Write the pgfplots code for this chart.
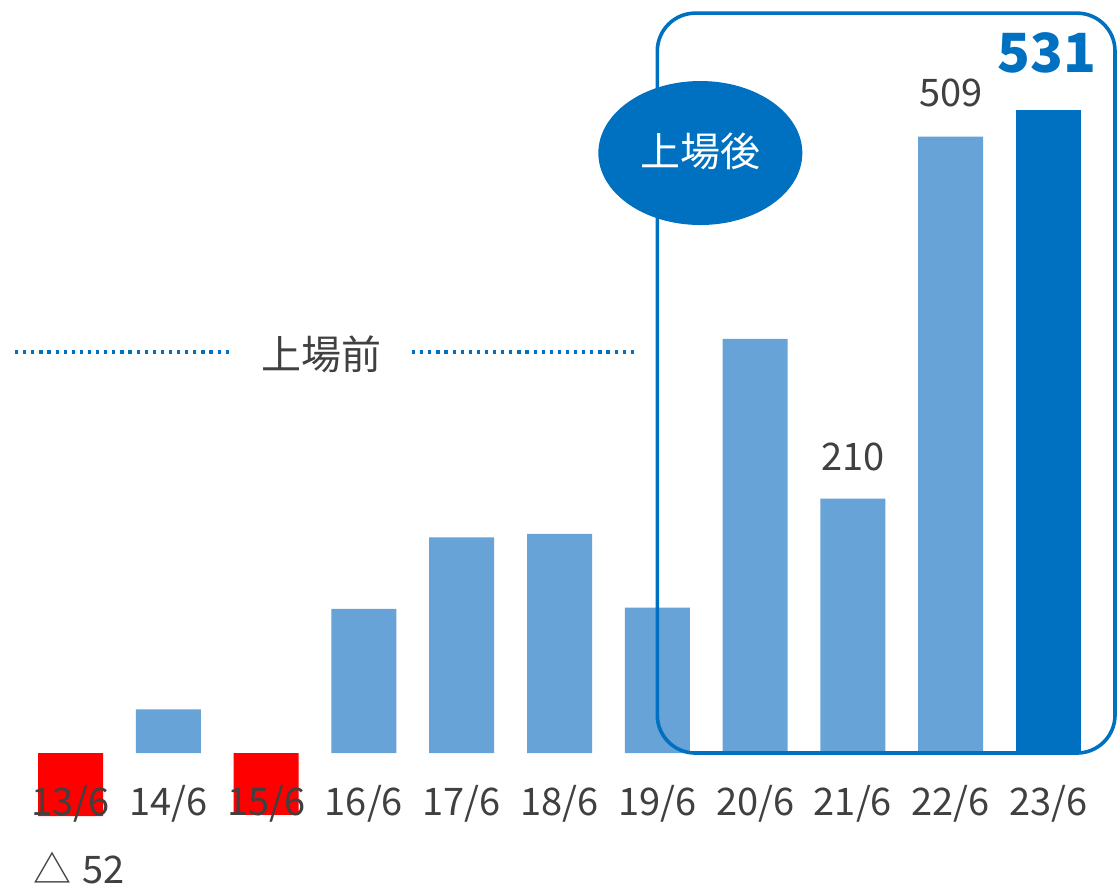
\documentclass[border=0pt]{standalone}
\usepackage{pgfplots}
\pgfplotsset{compat=1.18}
\usepackage{fontspec}
\setmainfont{Noto Sans CJK JP}
\definecolor{lb}{HTML}{67A3D6}
\definecolor{db}{HTML}{0070C0}
\definecolor{tg}{HTML}{404040}
\definecolor{rd}{HTML}{FF0000}
\begin{document}
\begin{tikzpicture}
\begin{axis}[
  scale only axis,
  width=537.9pt, height=375.4pt,
  xmin=-0.5, xmax=10.5, ymin=-60, ymax=560,
  axis line style={draw=none},
  major tick style={draw=none},
  axis on top,
  ytick=\empty,
  xtick={0,1,2,3,4,5,6,7,8,9,10},
  xticklabels={13/6,14/6,15/6,16/6,17/6,18/6,19/6,20/6,21/6,22/6,23/6},
  xticklabel style={anchor=base, yshift=5.35pt, font=\fontsize{19}{22}\selectfont, text=tg},
  clip=false,
]
\addplot[ybar, bar width=32.5pt, bar shift=0pt, fill=rd, draw=none] coordinates {(0,-52) (2,-51)};
\addplot[ybar, bar width=32.5pt, bar shift=0pt, fill=lb, draw=none] coordinates {(1,36) (3,119) (4,178) (5,181) (6,120) (7,342) (8,210) (9,509)};
\addplot[ybar, bar width=32.5pt, bar shift=0pt, fill=db, draw=none] coordinates {(10,531)};
% frame
\draw[db, line width=1.8pt, rounded corners=19pt] (axis cs:6,0) rectangle (axis cs:10.68,611);
% ellipse
\fill[db] (axis cs:6.44,495.5) ellipse [x radius=51pt, y radius=36pt];
\node[text=white, font=\fontsize{20}{24}\selectfont] at (axis cs:6.44,497) {上場後};
% before-listing
\draw[db, line width=2pt, dash pattern=on 1.6pt off 2.45pt] (axis cs:-0.567,331) -- (axis cs:1.662,331);
\draw[db, line width=2pt, dash pattern=on 1.6pt off 2.45pt] (axis cs:3.492,331) -- (axis cs:5.803,331);
\node[text=tg, font=\fontsize{20}{24}\selectfont] at (axis cs:2.57,329.5) {上場前};
% labels
\node[anchor=base, text=tg, font=\fontsize{19}{22}\selectfont] at (axis cs:8,233.7) {210};
\node[anchor=base, text=tg, font=\fontsize{19}{22}\selectfont] at (axis cs:9,534.3) {509};
\node[anchor=base, text=db, font=\fontsize{27}{30}\selectfont\bfseries] at (axis cs:9.985,561.6) {531};
\node[anchor=base west, inner sep=0pt, text=tg, font=\fontsize{19}{22}\selectfont] at (axis cs:-0.383,-107.4) {△\hspace{0.3em}52};
\end{axis}
\path[use as bounding box] (-10.8pt,-31.15pt) rectangle (547.7pt,412.85pt);
\end{tikzpicture}
\end{document}
